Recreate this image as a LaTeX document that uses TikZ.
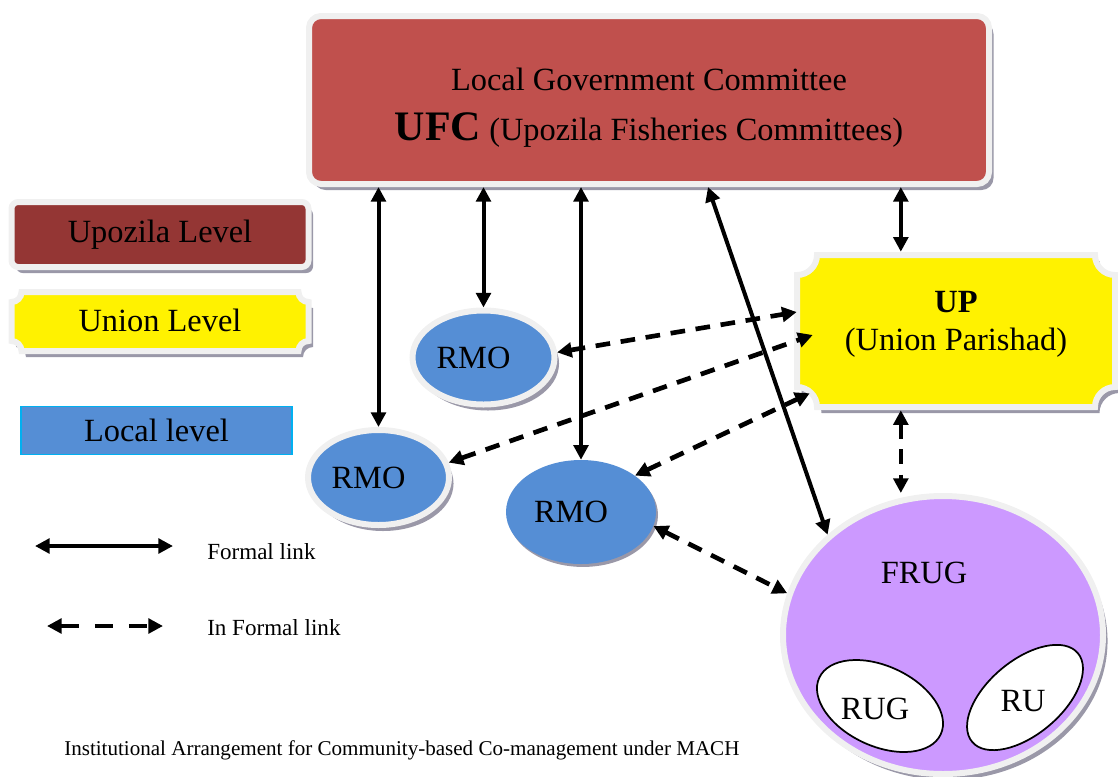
\documentclass[tikz,border=0pt]{standalone}
\usepackage{fontspec}
\setmainfont{Liberation Serif}
\usetikzlibrary{arrows.meta,shapes.geometric,calc,shadows}
\definecolor{ufcred}{HTML}{C0504D}
\definecolor{upored}{HTML}{943634}
\definecolor{lvblue}{HTML}{558ED5}
\definecolor{lvcyan}{HTML}{00B0F0}
\definecolor{frmgray}{HTML}{F0F0F0}
\definecolor{frugpurple}{HTML}{CC99FF}
\definecolor{shadowgray}{HTML}{9A98A8}
\def\pxu{0.75pt}
\newcommand\scooppath[5]{(#1+#5,#2) -- (#3-#5,#2) arc[start angle=180,end angle=90,radius=#5] -- (#3,#4-#5) arc[start angle=270,end angle=180,radius=#5] -- (#1+#5,#4) arc[start angle=0,end angle=-90,radius=#5] -- (#1,#2+#5) arc[start angle=90,end angle=0,radius=#5] -- cycle}
\begin{document}
\begin{tikzpicture}[x=0.75pt,y=-0.75pt,
  frm/.style={draw=frmgray, line width=4.5pt},
  shd/.style={drop shadow={shadow xshift=3.4pt, shadow yshift=-4.5pt, fill=shadowgray, opacity=1}},
  shdthin/.style={drop shadow={shadow xshift=1.5pt, shadow yshift=-2.2pt, fill=shadowgray, opacity=1}},
  lbl/.style={font=\fontsize{24.3}{37.5}\selectfont, align=center},
  rmotxt/.style={font=\fontsize{24.3}{29}\selectfont},
  lnktxt/.style={font=\fontsize{17.3}{20}\selectfont, inner sep=0pt, anchor=west},
  formal/.style={line width=3pt, {Triangle[length=11pt,width=11pt]}-{Triangle[length=11pt,width=11pt]}},
  informal/.style={line width=3.5pt, dash pattern=on 11pt off 8pt, {Triangle[length=11pt,width=11pt]}-{Triangle[length=11pt,width=11pt]}},
]
\useasboundingbox (0,0) rectangle (1118,776);

% UFC
\node[rectangle, rounded corners=9pt, fill=ufcred, frm, shd, minimum width=680*\pxu, minimum height=168*\pxu, lbl] (ufc) at (649,100)
  {\rule{0pt}{28.5pt}Local Government Committee\\{\fontsize{31.5}{37.5}\selectfont\bfseries UFC} (Upozila Fisheries Committees)};

% legend boxes
\node[rectangle, rounded corners=5pt, fill=upored, frm, shd, minimum width=297*\pxu, minimum height=65*\pxu, lbl] (lgupo) at (160,234.5) {Upozila Level};
\fill[shadowgray, shift={(4.5,6)}] \scooppath{11.5}{292}{308.5}{351}{10};
\draw[frm, fill=yellow] \scooppath{11.5}{292}{308.5}{351}{10};
\node[lbl, minimum width=297*\pxu, minimum height=59*\pxu] (lgunion) at (160,320.5) {Union Level};
\node[rectangle, fill=lvblue, draw=lvcyan, line width=1pt, minimum width=271*\pxu, minimum height=48*\pxu, lbl] (lglocal) at (156.5,430.5) {Local level};

% legend arrows
\coordinate (fa) at (35,546);
\coordinate (fb) at (173,546);
\draw[formal] (fa) -- (fb);
\node[lnktxt] (flab) at (207,552) {Formal link};
\coordinate (ia) at (47,626);
\coordinate (ib) at (163,626);
\draw[informal, dash pattern=on 13.5pt off 12pt] (ia) -- (ib);
\node[lnktxt] (ilab) at (207,627.5) {In Formal link};

% RMOs
\node[ellipse, fill=lvblue, frm, shd, inner sep=0pt, minimum width=142*\pxu, minimum height=94*\pxu, rmotxt] (rmo1) at (483.5,357.5) {RMO\kern15pt};
\node[ellipse, fill=lvblue, frm, shd, inner sep=0pt, minimum width=141*\pxu, minimum height=95*\pxu, rmotxt] (rmo2) at (378.5,477.5) {RMO\kern15pt};
\node[ellipse, fill=lvblue, shdthin, inner sep=0pt, minimum width=150*\pxu, minimum height=104*\pxu, rmotxt] (rmo3) at (581,512) {RMO\kern15pt};

% UP
\fill[shadowgray, shift={(4.5,6)}] \scooppath{797}{255}{1115}{407}{20};
\draw[frm, fill=yellow] \scooppath{797}{255}{1115}{407}{20};
\node[font=\fontsize{24.3}{28.5}\selectfont, align=center, minimum width=324*\pxu, minimum height=158*\pxu] (up) at (956,331) {\textbf{UP}\\(Union Parishad)\rule[-15.8pt]{0pt}{1pt}};

% FRUG
\node[ellipse, fill=frugpurple, frm, shd, minimum width=320*\pxu, minimum height=278*\pxu] (frug) at (943,635) {};
\node[rmotxt] (frugtxt) at (924,573) {FRUG};
\node[ellipse, draw=black, line width=1.3pt, fill=white, minimum width=134*\pxu, minimum height=80*\pxu, rotate=-25] (rug) at (880,706) {};
\node[rmotxt] (rugtxt) at (875,709) {RUG};
\node[ellipse, draw=black, line width=1.3pt, fill=white, minimum width=138*\pxu, minimum height=74*\pxu, rotate=40] (ru) at (1025,697.5) {};
\node[rmotxt] (rutxt) at (1023,701) {RU};

% formal links
\coordinate (upx) at ($(up.north west)!0.33!(up.north east)$);
\draw[formal] (ufc.south -| rmo2.north) -- (rmo2.north);
\draw[formal] (ufc.south -| rmo1.north) -- (rmo1.north);
\draw[formal] (ufc.south -| rmo3.north) -- (rmo3.north);
\draw[formal] ($(ufc.south)+(59,0)$) -- (frug.139);
\draw[formal] (ufc.south -| upx) -- (upx);

% informal links
\draw[informal] (rmo1.4) -- ($(up.west)+(3,-19)$);
\draw[informal] (rmo2.12) -- ($(up.west)+(19,4)$);
\draw[informal] (rmo3.34) -- ($(up.south west)+(16,-17)$);
\draw[informal] (rmo3.-11) -- (frug.165);
\draw[informal] (up.south -| upx) -- (frug.north -| upx);

% caption
\node[font=\fontsize{15.8}{19}\selectfont, inner sep=0pt, anchor=west] (caption) at (64,750) {Institutional Arrangement for Community-based Co-management under MACH};
\end{tikzpicture}
\end{document}
